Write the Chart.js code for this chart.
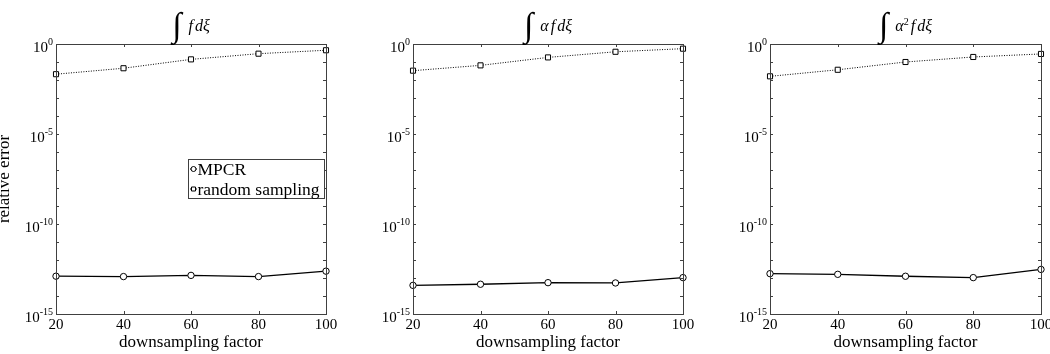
<!DOCTYPE html>
<html lang="en">
<head>
  <meta charset="UTF-8" />
  <title>relative error vs downsampling factor</title>
  <script src="https://cdn.jsdelivr.net/npm/chart.js"></script>
  <style>
    body { margin: 0; background: #fff; }
    .row { display: flex; width: 1050px; height: 354px; }
    canvas { display: block; }
  </style>
</head>
<body>
  <div class="row">
    <canvas id="c1" width="350" height="354"></canvas>
    <canvas id="c2" width="350" height="354"></canvas>
    <canvas id="c3" width="350" height="354"></canvas>
  </div>

  <script>
    // data
    const factors = [20, 40, 60, 80, 100];
    const seriesNames = ['MPCR', 'random sampling'];

    const mpcrF = [1.26e-13, 1.2e-13, 1.4e-13, 1.2e-13, 2.4e-13];
    const randomF = [0.021, 0.045, 0.14, 0.29, 0.45];
    const mpcrAlphaF = [3.9e-14, 4.5e-14, 5.5e-14, 5.3e-14, 1.05e-13];
    const randomAlphaF = [0.033, 0.065, 0.18, 0.37, 0.55];
    const mpcrAlpha2F = [1.74e-13, 1.6e-13, 1.25e-13, 1.05e-13, 3.0e-13];
    const randomAlpha2F = [0.016, 0.037, 0.1, 0.19, 0.28];

    const decadeExps = [-15, -14, -13, -12, -11, -10, -9, -8, -7, -6, -5, -4, -3, -2, -1, 0];
    const labelledExps = [0, -5, -10, -15];

    const SERIF = '"Liberation Serif", "Times New Roman", serif';
    const AXIS_COLOR = '#404040';

    function drawMarker(ctx, kind, x, y, r) {
      ctx.beginPath();
      if (kind === 'circle') ctx.arc(x, y, r, 0, Math.PI * 2);
      else ctx.rect(x - r, y - r, 2 * r, 2 * r);
      ctx.fillStyle = '#fff';
      ctx.fill();
      ctx.strokeStyle = '#000';
      ctx.lineWidth = 1;
      ctx.stroke();
    }

    // frame, inward ticks, tick labels, title and legend in MATLAB style
    const framePlugin = {
      id: 'frame',
      afterDraw(chart, args, opts) {
        const ctx = chart.ctx;
        const a = chart.chartArea;
        const xs = chart.scales.x, ys = chart.scales.y;
        ctx.save();

        // ticks
        ctx.strokeStyle = AXIS_COLOR;
        ctx.lineWidth = 1;
        ctx.beginPath();
        factors.forEach(v => {
          const px = Math.round(xs.getPixelForValue(v)) + 0.5;
          ctx.moveTo(px, a.bottom); ctx.lineTo(px, a.bottom - 3);
          ctx.moveTo(px, a.top); ctx.lineTo(px, a.top + 3);
        });
        decadeExps.forEach(e => {
          const py = Math.round(ys.getPixelForValue(Math.pow(10, e))) + 0.5;
          ctx.moveTo(a.left, py); ctx.lineTo(a.left + 3, py);
          ctx.moveTo(a.right, py); ctx.lineTo(a.right - 3, py);
        });
        ctx.stroke();
        ctx.strokeRect(Math.round(a.left) + 0.5, Math.round(a.top) + 0.5,
          Math.round(a.right - a.left), Math.round(a.bottom - a.top));

        // x tick labels
        ctx.fillStyle = '#000';
        ctx.font = '15px ' + SERIF;
        ctx.textAlign = 'center';
        ctx.textBaseline = 'alphabetic';
        factors.forEach(v => ctx.fillText(String(v), xs.getPixelForValue(v), a.bottom + 15));

        // y tick labels 10^e
        labelledExps.forEach(e => {
          const py = ys.getPixelForValue(Math.pow(10, e));
          const right = a.left - 3;
          ctx.font = '10px ' + SERIF;
          const sup = String(e);
          const sw = ctx.measureText(sup).width;
          ctx.textAlign = 'left';
          ctx.fillText(sup, right - sw, py + 1);
          ctx.font = '15px ' + SERIF;
          ctx.textAlign = 'right';
          ctx.fillText('10', right - sw, py + 8);
        });

        // x axis title
        ctx.font = '17px ' + SERIF;
        ctx.textAlign = 'center';
        ctx.fillText('downsampling factor', (a.left + a.right) / 2, a.bottom + 33);

        // y axis title
        if (opts.yTitle) {
          ctx.save();
          ctx.translate(9, (a.top + a.bottom) / 2);
          ctx.rotate(-Math.PI / 2);
          ctx.textAlign = 'center';
          ctx.textBaseline = 'alphabetic';
          ctx.fillText(opts.yTitle, 0, 0);
          ctx.restore();
        }

        // plot title: integral sign followed by italic math pieces
        const intFont = '34px ' + SERIF;
        const mathFont = 'italic 16px ' + SERIF;
        const supFont = '10px ' + SERIF;
        ctx.font = intFont;
        const intW = ctx.measureText('\u222B').width;
        let w = intW + 7;
        opts.title.forEach(p => {
          ctx.font = p[1] === 's' ? supFont : mathFont;
          w += ctx.measureText(p[0]).width + (p[2] || 0);
        });
        let x = (a.left + a.right) / 2 - w / 2;
        ctx.textAlign = 'left';
        ctx.font = intFont;
        ctx.fillText('\u222B', x, 36);
        x += intW + 7;
        opts.title.forEach(p => {
          ctx.font = p[1] === 's' ? supFont : mathFont;
          ctx.fillText(p[0], x, p[1] === 's' ? 25 : 31);
          x += ctx.measureText(p[0]).width + (p[2] || 0);
        });

        // legend
        if (opts.legend) {
          const L = opts.legend;
          ctx.fillStyle = '#fff';
          ctx.fillRect(L.x, L.y, L.w, L.h);
          ctx.strokeStyle = AXIS_COLOR;
          ctx.strokeRect(L.x + 0.5, L.y + 0.5, L.w, L.h);
          const rows = [['circle', seriesNames[0]], ['rect', seriesNames[1]]];
          rows.forEach((r, i) => {
            const cy = L.y + 10 + i * 20;
            ctx.strokeStyle = '#000';
            ctx.beginPath();
            ctx.moveTo(L.x + 2, cy); ctx.lineTo(L.x + 9, cy);
            ctx.stroke();
            drawMarker(ctx, r[0], L.x + 5.5, cy, r[0] === 'circle' ? 2.5 : 2);
            ctx.fillStyle = '#000';
            ctx.font = '17.5px ' + SERIF;
            ctx.textAlign = 'left';
            ctx.textBaseline = 'middle';
            ctx.fillText(r[1], L.x + 9.5, cy + 1);
          });
        }
        ctx.restore();
      }
    };

    function makeChart(id, mpcr, random, padLeft, padRight, opts) {
      const toPts = vals => factors.map((f, i) => ({ x: f, y: vals[i] }));
      return new Chart(document.getElementById(id), {
        type: 'line',
        data: {
          datasets: [
            {
              label: seriesNames[0],
              data: toPts(mpcr),
              borderColor: '#000',
              borderWidth: 1.3,
              pointStyle: 'circle',
              pointRadius: 3.2,
              pointBackgroundColor: '#fff',
              pointBorderColor: '#000',
              pointBorderWidth: 1,
              clip: false
            },
            {
              label: seriesNames[1],
              data: toPts(random),
              borderColor: '#000',
              borderWidth: 1,
              borderDash: [1, 1.5],
              pointStyle: 'rect',
              pointRadius: 3.6,
              pointBackgroundColor: '#fff',
              pointBorderColor: '#000',
              pointBorderWidth: 1,
              clip: false
            }
          ]
        },
        options: {
          responsive: false,
          animation: false,
          devicePixelRatio: 1,
          layout: { padding: { left: padLeft, right: padRight, top: 44, bottom: 40 } },
          plugins: {
            legend: { display: false },
            tooltip: { enabled: false },
            frame: opts
          },
          scales: {
            x: { type: 'linear', min: 20, max: 100, display: false },
            y: { type: 'logarithmic', min: 1e-15, max: 1, display: false }
          }
        },
        plugins: [framePlugin]
      });
    }

    makeChart('c1', mpcrF, randomF, 56, 24, {
      title: [['f', 'i', 2], ['d\u03BE', 'i']],
      yTitle: 'relative error',
      legend: { x: 188, y: 159, w: 136, h: 39 }
    });
    makeChart('c2', mpcrAlphaF, randomAlphaF, 63, 17, {
      title: [['\u03B1', 'i', 2], ['f', 'i', 2], ['d\u03BE', 'i']]
    });
    makeChart('c3', mpcrAlpha2F, randomAlpha2F, 70, 9, {
      title: [['\u03B1', 'i'], ['2', 's', 2], ['f', 'i', 2], ['d\u03BE', 'i']]
    });
  </script>
</body>
</html>
